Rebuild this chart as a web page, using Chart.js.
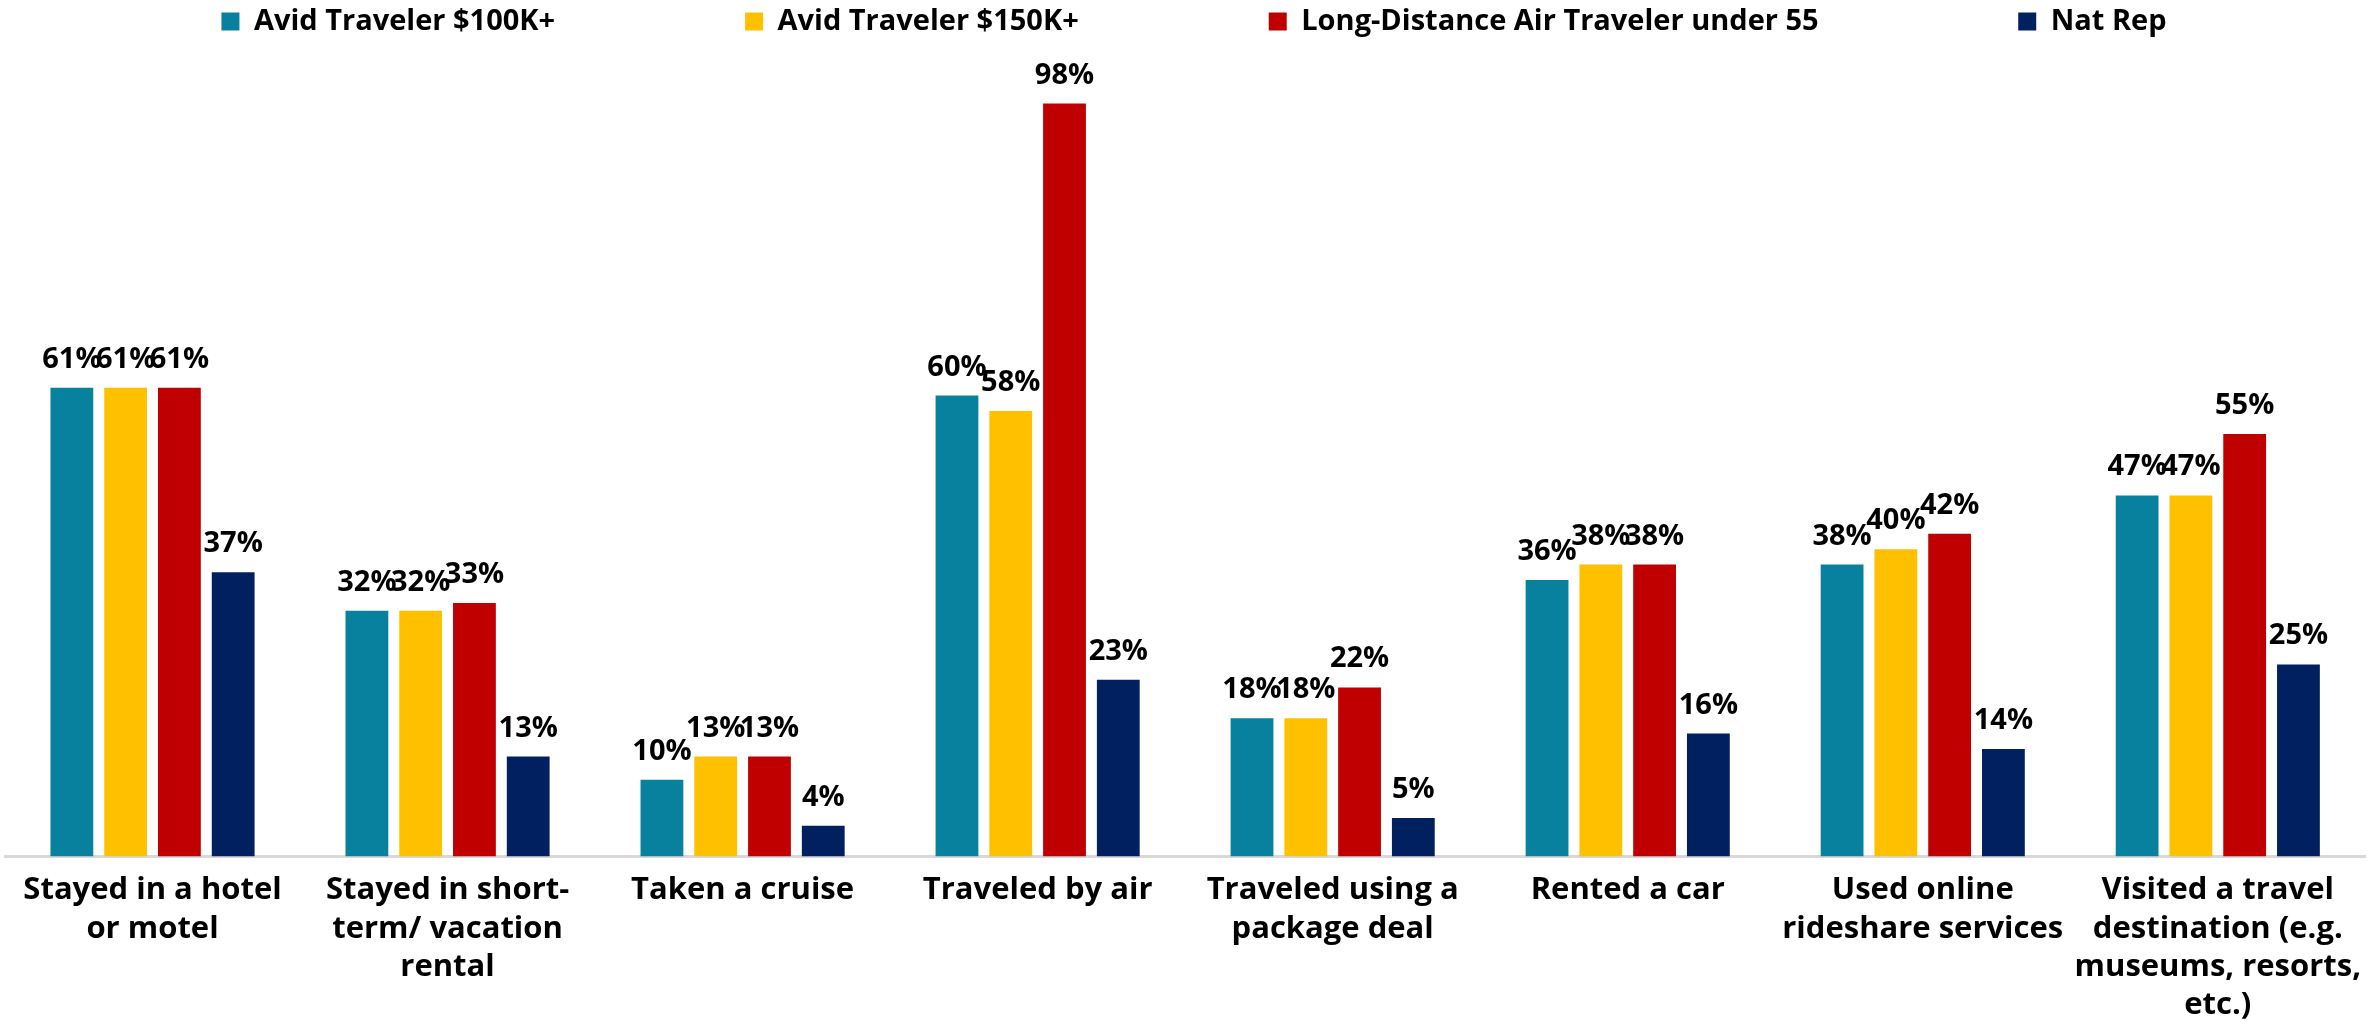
<!DOCTYPE html>
<html>
<head>
<meta charset="utf-8">
<script src="https://cdn.jsdelivr.net/npm/chart.js@4.4.1/dist/chart.umd.min.js"></script>
<style>
  html, body { margin: 0; padding: 0; background: #fff; }
  #wrap { width: 2376px; height: 1028px; }
</style>
</head>
<body>
<div id="wrap"><canvas id="travelChart"></canvas></div>
<script>
// categories (multi-line labels as in the original slide)
const categories = [
  ['Stayed in a hotel', 'or motel'],
  ['Stayed in short-', 'term/ vacation', 'rental'],
  ['Taken a cruise'],
  ['Traveled by air'],
  ['Traveled using a', 'package deal'],
  ['Rented a car'],
  ['Used online', 'rideshare services'],
  ['Visited a travel', 'destination (e.g.', 'museums, resorts,', 'etc.)']
];

const seriesNames = [
  'Avid Traveler $100K+',
  'Avid Traveler $150K+',
  'Long-Distance Air Traveler under 55',
  'Nat Rep'
];

// percent values
const avid100k = [61, 32, 10, 60, 18, 36, 38, 47];
const avid150k = [61, 32, 13, 58, 18, 38, 40, 47];
const longDistAir = [61, 33, 13, 98, 22, 38, 42, 55];
const natRep = [37, 13, 4, 23, 5, 16, 14, 25];

const colors = ['#07819D', '#FFC000', '#C00000', '#002060'];
const FONT = '"Open Sans"';
// spacing from one legend entry start to the next, as on the slide
const legendStep = [522, 522, 749];

// draws the % labels on top of each bar
const valueLabels = {
  id: 'valueLabels',
  afterDatasetsDraw(chart) {
    const ctx = chart.ctx;
    ctx.save();
    ctx.font = 'bold 29px ' + FONT;
    ctx.fillStyle = '#000';
    ctx.textAlign = 'center';
    ctx.textBaseline = 'alphabetic';
    chart.data.datasets.forEach((ds, i) => {
      chart.getDatasetMeta(i).data.forEach((bar, j) => {
        ctx.fillText(ds.data[j] + '%', bar.x, bar.y - 20);
      });
    });
    ctx.restore();
  }
};

const ctx = document.getElementById('travelChart').getContext('2d');
new Chart(ctx, {
  type: 'bar',
  data: {
    labels: categories,
    datasets: [avid100k, avid150k, longDistAir, natRep].map((d, i) => ({
      label: seriesNames[i],
      data: d,
      backgroundColor: colors[i],
      categoryPercentage: 0.729,
      barPercentage: 0.796
    }))
  },
  options: {
    responsive: true,
    maintainAspectRatio: false,
    animation: false,
    layout: { padding: { left: 5, right: -7, top: 0, bottom: -11 } },
    plugins: {
      tooltip: { enabled: false },
      legend: {
        position: 'top',
        labels: {
          color: '#000',
          font: { family: FONT, size: 29, weight: 'bold' },
          boxWidth: 18,
          boxHeight: 18,
          padding: 7,
          generateLabels(chart) {
            const items = Chart.defaults.plugins.legend.labels.generateLabels(chart);
            const c = chart.ctx;
            c.save();
            c.font = 'bold 29px ' + FONT;
            const sp = c.measureText('\u2009').width || 6;
            items.forEach((it, i) => {
              if (i >= legendStep.length) return;
              // box + gap + text + padding should fill one step
              const want = legendStep[i] - 7 - 18 - 14.5;
              const n = Math.max(0, Math.round((want - c.measureText(it.text).width) / sp));
              it.text += '\u2009'.repeat(n);
            });
            c.restore();
            return items;
          }
        }
      }
    },
    scales: {
      x: {
        grid: { display: false, drawTicks: false },
        border: { display: true, color: '#d9d9d9', width: 3 },
        ticks: {
          color: '#000',
          padding: 15,
          maxRotation: 0,
          autoSkip: false,
          font: { family: FONT, size: 31, weight: 'bold', lineHeight: 1.23 }
        }
      },
      y: {
        display: false,
        min: 0,
        max: 105.5
      }
    }
  },
  plugins: [valueLabels]
});
</script>
</body>
</html>
